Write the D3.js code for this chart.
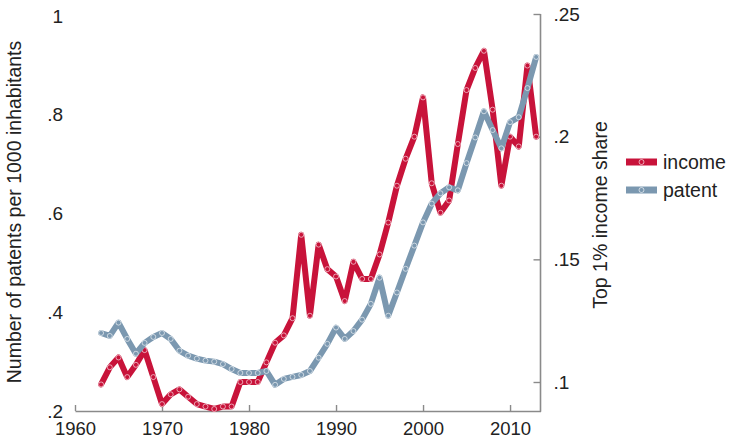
<!DOCTYPE html>
<html>
<head>
<meta charset="utf-8">
<script src="https://cdn.jsdelivr.net/npm/d3@7"></script>
<style>
  html, body { margin: 0; padding: 0; background: #fff; }
  svg { display: block; font-family: "Liberation Sans", Arial, sans-serif; }
</style>
</head>
<body>
<svg id="chart" width="731" height="440"></svg>
<script>
// Years covered by both series
const years = [
  1963, 1964, 1965, 1966, 1967, 1968, 1969, 1970, 1971, 1972,
  1973, 1974, 1975, 1976, 1977, 1978, 1979, 1980, 1981, 1982,
  1983, 1984, 1985, 1986, 1987, 1988, 1989, 1990, 1991, 1992,
  1993, 1994, 1995, 1996, 1997, 1998, 1999, 2000, 2001, 2002,
  2003, 2004, 2005, 2006, 2007, 2008, 2009, 2010, 2011, 2012, 2013
];

// Top 1% income share (right axis)
const income = [
  0.099, 0.106, 0.110, 0.102, 0.107, 0.113, 0.102, 0.091, 0.095, 0.097,
  0.094, 0.091, 0.090, 0.089, 0.090, 0.090, 0.100, 0.100, 0.100, 0.108,
  0.116, 0.119, 0.126, 0.160, 0.127, 0.156, 0.146, 0.143, 0.133, 0.149,
  0.142, 0.142, 0.152, 0.165, 0.180, 0.191, 0.200, 0.216, 0.181, 0.169,
  0.174, 0.197, 0.219, 0.228, 0.235, 0.211, 0.180, 0.200, 0.196, 0.229, 0.200
];

// Number of patents per 1000 inhabitants (left axis)
const patent = [
  0.358, 0.352, 0.379, 0.346, 0.316, 0.338, 0.350, 0.358, 0.346, 0.322,
  0.312, 0.306, 0.302, 0.300, 0.295, 0.285, 0.277, 0.277, 0.277, 0.281,
  0.253, 0.265, 0.269, 0.273, 0.281, 0.308, 0.336, 0.369, 0.346, 0.362,
  0.385, 0.417, 0.470, 0.393, 0.440, 0.488, 0.535, 0.582, 0.620, 0.641,
  0.653, 0.647, 0.702, 0.754, 0.807, 0.769, 0.732, 0.785, 0.795, 0.854, 0.917
];

const xTicks = [1960, 1970, 1980, 1990, 2000, 2010];
const leftTicks = [0.2, 0.4, 0.6, 0.8, 1];
const rightTicks = [0.1, 0.15, 0.2, 0.25];

const seriesNames = ["income", "patent"];
const seriesColors = { income: "#c8133a", patent: "#7b98b0" };

const svg = d3.select("#chart");

const x = d3.scaleLinear().domain([1960, 2013.5]).range([75, 540.5]);
const yLeft = d3.scaleLinear().domain([0.2, 1]).range([411, 16]);
const yRight = d3.scaleLinear().domain([0.1, 0.25]).range([382, 14]);

const axisColor = "#8a8a8a";
const textColor = "#222";
// Stata-style labels: drop the leading zero
const noLeadZero = v => String(v).replace(/^0\./, ".");

// Bottom axis with ticks pointing into the plot
const gx = svg.append("g")
  .attr("transform", "translate(0,411)")
  .call(d3.axisBottom(x).tickValues(xTicks).tickFormat(d3.format("d"))
    .tickSizeInner(-6).tickSizeOuter(0).tickPadding(11));
gx.select(".domain").attr("stroke", axisColor).attr("stroke-width", 1.6);
gx.selectAll(".tick line").attr("stroke", axisColor).attr("stroke-width", 1.4);
gx.selectAll(".tick text").attr("fill", textColor).style("font-size", "18.5px");

// Left axis: labels only
const gl = svg.append("g")
  .attr("transform", "translate(75,0)")
  .call(d3.axisLeft(yLeft).tickValues(leftTicks).tickFormat(noLeadZero)
    .tickSize(0).tickPadding(12));
gl.select(".domain").remove();
gl.selectAll(".tick text").attr("fill", textColor).style("font-size", "19px");

// Right axis with inward ticks
const gr = svg.append("g")
  .attr("transform", "translate(540.5,0)")
  .call(d3.axisRight(yRight).tickValues(rightTicks).tickFormat(noLeadZero)
    .tickSizeInner(-7).tickSizeOuter(0).tickPadding(13));
gr.select(".domain").remove();
gr.append("line")
  .attr("x1", 0).attr("x2", 0).attr("y1", yRight(0.25)).attr("y2", 411.8)
  .attr("stroke", axisColor).attr("stroke-width", 1.6);
gr.selectAll(".tick line").attr("stroke", axisColor).attr("stroke-width", 1.4);
gr.selectAll(".tick text").attr("fill", textColor).style("font-size", "19px");

// Axis titles
svg.append("text")
  .attr("transform", "translate(21,212) rotate(-90)")
  .attr("text-anchor", "middle")
  .attr("fill", textColor)
  .style("font-size", "19.5px")
  .text("Number of patents per 1000 inhabitants");

svg.append("text")
  .attr("transform", "translate(607,215) rotate(-90)")
  .attr("text-anchor", "middle")
  .attr("fill", textColor)
  .style("font-size", "19.5px")
  .text("Top 1% income share");

// Series
const incomePts = years.map((yr, i) => [x(yr), yRight(income[i])]);
const patentPts = years.map((yr, i) => [x(yr), yLeft(patent[i])]);
const line = d3.line();

function drawSeries(pts, color) {
  const g = svg.append("g");
  g.append("path")
    .attr("d", line(pts))
    .attr("fill", "none")
    .attr("stroke", color)
    .attr("stroke-width", 6)
    .attr("stroke-linejoin", "round")
    .attr("stroke-linecap", "round");
  g.selectAll("circle").data(pts).join("circle")
    .attr("cx", d => d[0]).attr("cy", d => d[1])
    .attr("r", 2.5)
    .attr("fill", color)
    .attr("stroke", "rgba(255,255,255,0.6)")
    .attr("stroke-width", 1);
}

drawSeries(incomePts, seriesColors.income);
drawSeries(patentPts, seriesColors.patent);

// Legend
const legend = svg.append("g");
seriesNames.forEach((name, i) => {
  const yy = 162 + i * 28;
  legend.append("line")
    .attr("x1", 626).attr("x2", 657).attr("y1", yy).attr("y2", yy)
    .attr("stroke", seriesColors[name]).attr("stroke-width", 7);
  legend.append("circle")
    .attr("cx", 641.5).attr("cy", yy).attr("r", 2.5)
    .attr("fill", seriesColors[name])
    .attr("stroke", "rgba(255,255,255,0.6)").attr("stroke-width", 1);
  legend.append("text")
    .attr("x", 663).attr("y", yy)
    .attr("dominant-baseline", "central")
    .attr("fill", textColor)
    .style("font-size", "19.5px")
    .text(name);
});
</script>
</body>
</html>
